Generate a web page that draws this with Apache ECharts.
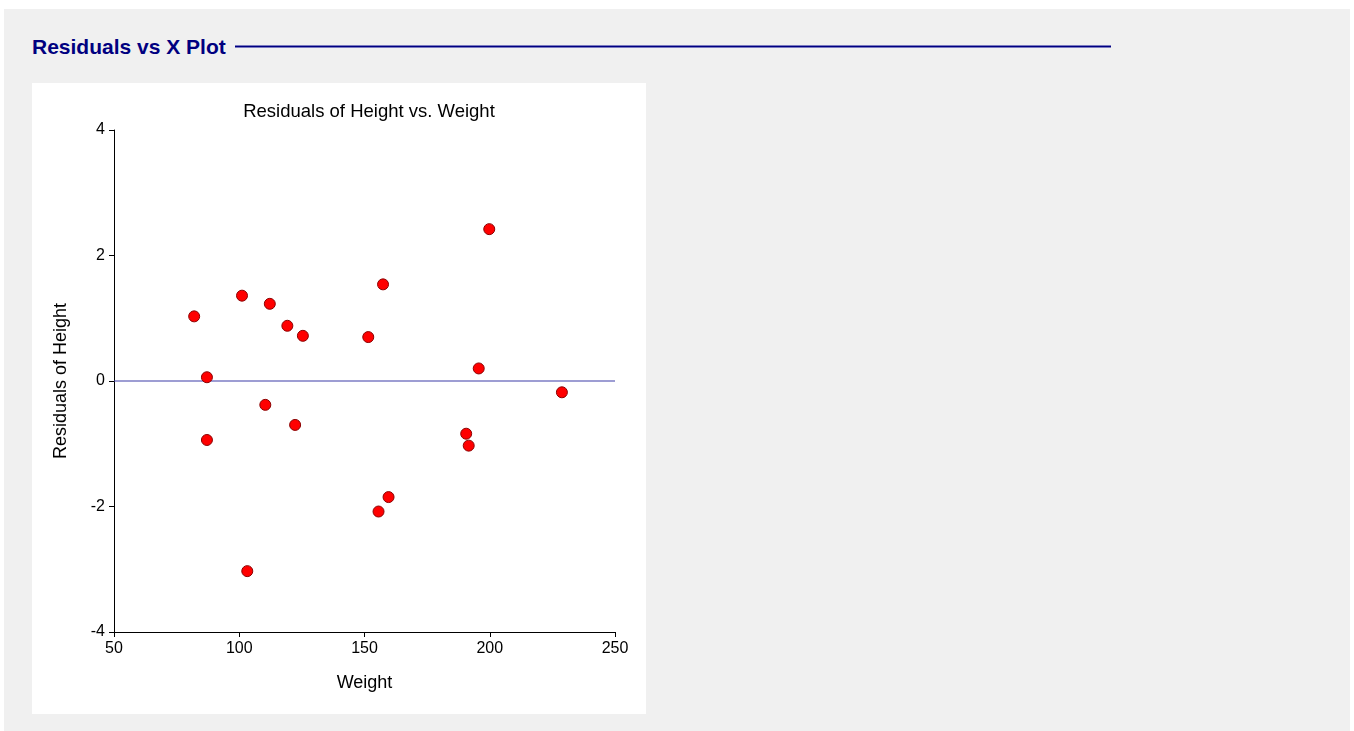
<!DOCTYPE html>
<html lang="en">
<head>
    <meta charset="utf-8"/>
    <title>Residuals vs X Plot</title>
    <script src="https://cdn.jsdelivr.net/npm/echarts@6/dist/echarts.min.js"></script>
    <style>
        body {
            margin: 0;
            background: #ffffff;
            font-family: "Liberation Sans", Arial, sans-serif;
        }

        .panel {
            position: absolute;
            left: 4px;
            top: 9px;
            width: 1346px;
            height: 730px;
            background: #f0f0f0;
        }

        .head {
            position: absolute;
            left: 32px;
            top: 35px;
            font-size: 21px;
            font-weight: bold;
            color: #000080;
        }

        .head-line {
            position: absolute;
            left: 235px;
            top: 45px;
            width: 876px;
            height: 1px;
            background: #000080;
            border-top: 1px solid #7a7ac0;
            border-bottom: 1px solid #7a7ac0;
        }

        #main {
            position: absolute;
            left: 32px;
            top: 83px;
            width: 614px;
            height: 631px;
            background: #ffffff;
        }
    </style>
</head>
<body>
<div class="panel"></div>
<div class="head">Residuals vs X Plot</div>
<div class="head-line"></div>
<div id="main"></div>

<script>
    // weight values and the residuals
    var weight = [82.0, 87.1, 87.1, 101.1, 103.2, 110.4, 112.2, 119.2, 122.3, 125.4,
        151.5, 155.6, 157.4, 159.6, 190.6, 191.6, 195.6, 199.8, 228.8];
    var residual = [1.03, 0.06, -0.94, 1.36, -3.03, -0.38, 1.23, 0.88, -0.70, 0.72,
        0.70, -2.08, 1.54, -1.85, -0.84, -1.03, 0.20, 2.42, -0.18];

    var xTicks = [50, 250, 50];   // min, max, step
    var yTicks = [-4, 4, 2];
    var zeroLine = [[50, 0], [250, 0]];

    var points = [];
    for (var i = 0; i < weight.length; i++) {
        points.push([weight[i], residual[i]]);
    }

    var myChart = echarts.init(document.getElementById('main'));
    var option = {
        animation: false,
        title: {
            text: 'Residuals of Height vs. Weight',
            left: 332,
            textAlign: 'center',
            top: 14,
            textStyle: {
                fontFamily: 'Liberation Sans',
                fontSize: 18.5,
                fontWeight: 'normal',
                color: '#000'
            }
        },
        grid: {
            left: 82,
            right: 31,
            top: 47,
            bottom: 82
        },
        xAxis: {
            type: 'value',
            min: xTicks[0],
            max: xTicks[1],
            interval: xTicks[2],
            name: 'Weight',
            nameLocation: 'middle',
            nameGap: 42,
            nameTextStyle: {fontFamily: 'Liberation Sans', fontSize: 18, color: '#000'},
            axisLine: {onZero: false, lineStyle: {color: '#000', width: 1}},
            axisTick: {show: true, length: 5, lineStyle: {color: '#000'}},
            axisLabel: {fontFamily: 'Liberation Sans', fontSize: 16, color: '#000', margin: 9},
            splitLine: {show: false}
        },
        yAxis: {
            type: 'value',
            min: yTicks[0],
            max: yTicks[1],
            interval: yTicks[2],
            name: 'Residuals of Height',
            nameLocation: 'middle',
            nameGap: 44,
            nameTextStyle: {fontFamily: 'Liberation Sans', fontSize: 18, color: '#000'},
            axisLine: {show: true, onZero: false, lineStyle: {color: '#000', width: 1}},
            axisTick: {show: true, length: 5, lineStyle: {color: '#000'}},
            axisLabel: {fontFamily: 'Liberation Sans', fontSize: 16, color: '#000', margin: 9},
            splitLine: {show: false}
        },
        series: [
            {
                // horizontal reference line at zero
                type: 'line',
                data: zeroLine,
                symbol: 'none',
                silent: true,
                lineStyle: {color: '#3c3ca8', width: 1.2},
                z: 1
            },
            {
                type: 'scatter',
                data: points,
                symbol: 'circle',
                symbolSize: 11,
                itemStyle: {
                    color: '#ff0000',
                    borderColor: '#8b0000',
                    borderWidth: 1,
                    opacity: 1
                },
                z: 3
            }
        ]
    };
    myChart.setOption(option);
</script>
</body>
</html>
